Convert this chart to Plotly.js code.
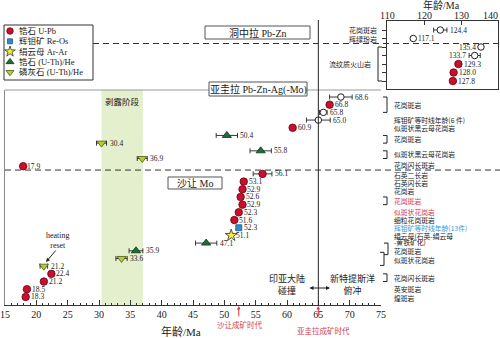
<!DOCTYPE html>
<html><head><meta charset="utf-8">
<script src="https://cdn.plot.ly/plotly-3.0.1.min.js"></script>
<style>html,body{margin:0;padding:0;background:#fff}#chart{width:500px;height:338px}</style>
</head><body><div id="chart"></div>
<script>
// ---------- data (main panel: row index 0 = top) ----------
const openAge = [68.6, 65.8, 65.0];
const openRow = [0, 2, 3];
const openErr = [1.8, 0.6, 1.9];

const zrUPbAge = [66.8, 60.9, 17.9, 56.1, 53.1, 52.9, 52.6, 52.9, 52.3, 51.6, 22.4, 21.2, 18.5, 18.3];
const zrUPbRow = [1, 4, 9, 10, 11, 12, 13, 14, 15, 16, 23, 24, 25, 26];
const zrUPbErr = [0.4, 0.3, 0.1, 1.5, 0.4, 0.3, 0.4, 0.3, 0.3, 0.3, 0.3, 0.3, 0.3, 0.4];

const moReOsAge = [52.3];
const moReOsRow = [17];
const moReOsErr = [0.3];

const serArArAge = [51.1];
const serArArRow = [18];
const serArArErr = [0.3];

const zrHeAge = [50.4, 55.8, 47.1, 35.9];
const zrHeRow = [5, 7, 19, 20];
const zrHeErr = [1.7, 1.7, 1.7, 1.1];

const apHeAge = [30.4, 36.9, 33.6, 21.2];
const apHeRow = [6, 8, 21, 22];
const apHeErr = [0.8, 0.8, 0.9, 0.6];

// inset (洞中拉)
const insetOpenAge = [124.4, 117.1, 135.4, 133.7];
const insetOpenRow = [0, 1, 2, 3];
const insetOpenErr = [1.8, 0.6, 0.6, 1.5];
const insetZrAge = [129.3, 128.0, 127.8];
const insetZrRow = [4, 5, 6];
const insetZrErr = [0.8, 0.6, 0.6];
const insetTicks = [110, 120, 130, 140];

// rock labels (right of main panel)
const rockText = ['花岗斑岩','辉钼矿等时线年龄(6 件)','似斑状黑云母花岗岩','花岗斑岩','似斑状黑云母花岗岩','花岗闪长斑岩',
  '石英二长岩','石英闪长岩','花岗岩','花岗斑岩','似斑状花岗岩','细粒花岗斑岩','辉钼矿等时线年龄(13件)',
  '绢云母(石英-绢云母','-黄铁矿化)','花岗斑岩','似斑状花岗岩','花岗闪长斑岩','英安斑岩','煌斑岩'];
const rockRow = [1, 3, 4, 5.5, 7.4, 8.9, 10.1, 11.2, 12.2, 13.5, 15, 16, 17, 18.1, 18.85, 20.0, 21.2, 23.5, 25, 26.1];
const rockColor = ['#222','#222','#222','#222','#222','#222','#222','#222','#222','#d23a4c','#d23a4c','#222','#2f9ad8','#222','#222','#222','#222','#222','#222','#222'];
const bracketFrom = [0, 5, 7, 13, 19, 20.2, 23];
const bracketTo   = [2, 6, 8, 14, 20.5, 21.9, 24];
const bracketX    = [387, 387, 387, 387, 388, 384, 387];

const insetRockText = ['花岗斑岩', '辉绿玢岩', '流纹质火山岩'];
const insetRockRow = [0, 1, 4];

const xTitle = '年龄/Ma';

// ---------- helpers ----------
const W = 500, H = 338;
const px = x => x / W;
const py = y => 1 - y / H;
const SERIF = 'Liberation Serif, "Noto Sans CJK SC", serif';
const CJK = '"Noto Sans CJK SC", Liberation Serif, sans-serif';

const styles = {
  open: {symbol: 'circle', size: 6.5, color: '#ffffff', line: {color: '#222', width: 1}},
  zr:   {symbol: 'circle', size: 7.5, color: '#c8102e', line: {color: '#6e0010', width: 0.8}},
  mo:   {symbol: 'square', size: 6, color: '#2e8bd0', line: {color: '#1a5a90', width: 0.8}},
  ser:  {symbol: 'star', size: 9, color: '#f4ee3a', line: {color: '#333', width: 0.8}},
  zrHe: {symbol: 'triangle-up', size: 8, color: '#1f6e3a', line: {color: '#0c3518', width: 0.8}},
  apHe: {symbol: 'triangle-down', size: 8, color: '#b9c934', line: {color: '#4b5a12', width: 0.8}}
};

function tr(xs, ys, errs, st, xa, ya) {
  return {
    type: 'scatter', mode: 'markers', x: xs, y: ys, xaxis: xa, yaxis: ya,
    marker: st, cliponaxis: false, hoverinfo: 'skip',
    error_x: {type: 'data', array: errs, visible: true, color: '#222', thickness: 0.9, width: 2.5}
  };
}

const data = [
  tr(openAge, openRow, openErr, styles.open, 'x', 'y'),
  tr(zrUPbAge, zrUPbRow, zrUPbErr, styles.zr, 'x', 'y'),
  tr(moReOsAge, moReOsRow, moReOsErr, styles.mo, 'x', 'y'),
  tr(serArArAge, serArArRow, serArArErr, styles.ser, 'x', 'y'),
  tr(zrHeAge, zrHeRow, zrHeErr, styles.zrHe, 'x', 'y'),
  tr(apHeAge, apHeRow, apHeErr, styles.apHe, 'x', 'y'),
  tr(insetOpenAge, insetOpenRow, insetOpenErr, styles.open, 'x2', 'y3'),
  tr(insetZrAge, insetZrRow, insetZrErr, styles.zr, 'x2', 'y3')
];

// legend (manual, pixel overlay axes)
const legendItems = [
  ['锆石 U-Pb', styles.zr], ['辉钼矿 Re-Os', styles.mo], ['绢云母 Ar-Ar', styles.ser],
  ['锆石 (U-Th)/He', styles.zrHe], ['磷灰石 (U-Th)/He', styles.apHe]
];
const legY0 = 31, legDy = 10.3;
legendItems.forEach((it, i) => {
  data.push({type: 'scatter', mode: 'markers', x: [10], y: [legY0 + i * legDy], xaxis: 'x3', yaxis: 'y4',
    marker: Object.assign({}, it[1], {size: it[1].size - 1}), hoverinfo: 'skip', cliponaxis: false});
});

const annotations = [];
const shapes = [];

// value labels
function addLabels(ages, rows, errs, xref, yref, leftSet) {
  ages.forEach((a, i) => {
    const left = leftSet && leftSet.includes(i);
    annotations.push({xref: xref, yref: yref, x: left ? a - errs[i] : a + errs[i], y: rows[i],
      text: a.toFixed(1), showarrow: false, xanchor: left ? 'right' : 'left', yanchor: 'middle',
      xshift: left ? -1 : 1, font: {family: SERIF, size: 7.5, color: '#222'}});
  });
}
addLabels(openAge, openRow, openErr, 'x', 'y');
addLabels(zrUPbAge, zrUPbRow, zrUPbErr, 'x', 'y');
addLabels(moReOsAge, moReOsRow, moReOsErr, 'x', 'y');
addLabels(serArArAge, serArArRow, serArArErr, 'x', 'y');
addLabels(zrHeAge, zrHeRow, zrHeErr, 'x', 'y');
addLabels(apHeAge, apHeRow, apHeErr, 'x', 'y');
addLabels(insetOpenAge, insetOpenRow, insetOpenErr, 'x2', 'y3', [2, 3]);
addLabels(insetZrAge, insetZrRow, insetZrErr, 'x2', 'y3');

// rock labels
rockText.forEach((t, i) => annotations.push({xref: 'paper', yref: 'y', x: px(392), y: rockRow[i], text: t,
  showarrow: false, xanchor: 'left', yanchor: 'middle', align: 'left',
  font: {family: CJK, size: 6.8, color: rockColor[i]}}));
bracketFrom.forEach((f, i) => shapes.push({type: 'path', xref: 'paper', yref: 'y',
  path: `M ${px(bracketX[i]-4)},${f} L ${px(bracketX[i])},${f} L ${px(bracketX[i])},${bracketTo[i]} L ${px(bracketX[i]-4)},${bracketTo[i]}`,
  line: {color: '#222', width: 1}}));

insetRockText.forEach((t, i) => annotations.push({xref: 'paper', yref: 'y3', x: px(i < 2 ? 379 : 373), y: insetRockRow[i],
  text: t, showarrow: false, xanchor: 'right', yanchor: 'middle', font: {family: CJK, size: 7, color: '#222'}}));
shapes.push({type: 'path', xref: 'paper', yref: 'y3',
  path: `M ${px(382)},2 L ${px(378)},2 L ${px(378)},6 L ${px(382)},6`, line: {color: '#222', width: 1}});

// inset tick labels (on the inset x-axis scale; last one kept inside the page)
insetTicks.forEach((v, i) => {
  const last = i === insetTicks.length - 1;
  annotations.push({xref: 'x2', yref: 'paper', x: v, y: py(15), text: String(v),
    showarrow: false, xanchor: last ? 'right' : 'center', xshift: last ? 2 : 0, yanchor: 'middle',
    font: {family: SERIF, size: 10, color: '#222'}});
});

// background band & lines
shapes.push({type: 'rect', xref: 'x', yref: 'paper', x0: 30.4, x1: 37.0, y0: py(305), y1: py(90),
  fillcolor: '#e3efcd', line: {width: 0}, layer: 'below'});
shapes.push({type: 'line', xref: 'paper', yref: 'paper', x0: px(5), x1: px(381), y0: py(90), y1: py(90),
  line: {color: '#999', width: 1.2}});
shapes.push({type: 'line', xref: 'x', yref: 'paper', x0: 65, x1: 65, y0: py(305), y1: py(20),
  line: {color: '#222', width: 1}});
shapes.push({type: 'line', xref: 'paper', yref: 'y', x0: px(5), x1: px(500), y0: 9.5, y1: 9.5,
  line: {color: '#333', width: 1, dash: '6px,4px'}});
shapes.push({type: 'line', xref: 'paper', yref: 'paper', x0: px(93), x1: px(500), y0: py(43.5), y1: py(43.5),
  line: {color: '#333', width: 1, dash: '6px,4px'}});
// legend box
shapes.push({type: 'rect', xref: 'paper', yref: 'paper', x0: px(4), x1: px(93), y0: py(80), y1: py(25),
  line: {color: '#333', width: 1}, fillcolor: 'rgba(255,255,255,0)'});
legendItems.forEach((it, i) => annotations.push({xref: 'paper', yref: 'paper', x: px(17), y: py(legY0 + i * legDy),
  text: it[0], showarrow: false, xanchor: 'left', yanchor: 'middle', font: {family: SERIF, size: 8.5, color: '#222'}}));

// deposit boxes
function box(x0, x1, y0, y1, text, size) {
  shapes.push({type: 'rect', xref: 'paper', yref: 'paper', x0: px(x0), x1: px(x1), y0: py(y1), y1: py(y0),
    fillcolor: '#fff', line: {color: '#555', width: 1}});
  annotations.push({xref: 'paper', yref: 'paper', x: px((x0 + x1) / 2), y: py((y0 + y1) / 2), text: text,
    showarrow: false, xanchor: 'center', yanchor: 'middle', font: {family: SERIF, size: size, color: '#222'}});
}
box(205, 310, 26, 39, '洞中拉 Pb-Zn', 10);
box(209, 307, 82, 96, '亚圭拉 Pb-Zn-Ag(-Mo)', 10);
box(168, 222, 177, 189, '沙让 Mo', 10);

// free text
const txt = (x, y, t, size, color, fam) => annotations.push({xref: 'paper', yref: 'paper', x: px(x), y: py(y), text: t,
  showarrow: false, xanchor: 'center', yanchor: 'middle', font: {family: fam || CJK, size: size, color: color || '#222'}});
txt(122, 101, '剥露阶段', 8.5);
txt(287, 284, '印亚大陆<br>碰撞', 9);
txt(352, 284, '新特提斯洋<br>俯冲', 9);
txt(181, 331, xTitle, 11, '#222', SERIF);
txt(441, 5, xTitle, 10, '#222', SERIF);
txt(58, 240, 'heating<br>reset', 8, '#222', SERIF);

// arrows
annotations.push({xref: 'paper', yref: 'paper', x: px(46), y: py(262), ax: 11, ay: -13, text: '', showarrow: true,
  arrowhead: 2, arrowsize: 0.8, arrowwidth: 1, arrowcolor: '#222'});
annotations.push({xref: 'paper', yref: 'paper', x: px(330), y: py(288), ax: -22, ay: 0, text: '', showarrow: true,
  arrowhead: 2, arrowside: 'end+start', arrowsize: 0.8, arrowwidth: 1, arrowcolor: '#222'});
annotations.push({xref: 'x', yref: 'paper', x: 52.3, y: py(306), ax: 0, ay: 12, text: '', showarrow: true,
  arrowhead: 2, arrowsize: 0.7, arrowwidth: 1, arrowcolor: '#d23a4c'});
annotations.push({xref: 'x', yref: 'paper', x: 65, y: py(306), ax: 0, ay: 12, text: '', showarrow: true,
  arrowhead: 2, arrowsize: 0.7, arrowwidth: 1, arrowcolor: '#d23a4c'});
txt(240, 324, '沙让成矿时代', 7.5, '#d23a4c');
txt(323, 330, '亚圭拉成矿时代', 7.5, '#d23a4c');

const rows27 = Array.from({length: 27}, (_, i) => i);
const rows7 = Array.from({length: 7}, (_, i) => i);

const layout = {
  width: W, height: H, margin: {l: 0, r: 0, t: 0, b: 0},
  paper_bgcolor: '#fff', plot_bgcolor: 'rgba(0,0,0,0)', showlegend: false,
  font: {family: SERIF, color: '#222'},
  xaxis: {domain: [px(5), px(381)], range: [15, 75], anchor: 'y', showline: true, linecolor: '#333', linewidth: 1,
    ticks: 'inside', ticklen: 5, tickwidth: 1, tickcolor: '#333', tick0: 15, dtick: 5,
    minor: {dtick: 1, ticks: 'inside', ticklen: 2.5, tickcolor: '#333'},
    tickfont: {family: SERIF, size: 10, color: '#222'}, showgrid: false, zeroline: false, fixedrange: true},
  yaxis: {domain: [py(305), py(90)], range: [27.05, -0.91], anchor: 'x', showline: true, linecolor: '#888',
    ticks: '', showticklabels: false, showgrid: false, zeroline: false, fixedrange: true},
  yaxis2: {overlaying: 'y', side: 'right', anchor: 'x', range: [27.05, -0.91], showline: true, linecolor: '#333',
    tickmode: 'array', tickvals: rows27, ticks: 'inside', ticklen: 4, tickcolor: '#333', showticklabels: false,
    showgrid: false, zeroline: false, fixedrange: true},
  xaxis2: {domain: [px(387), px(498)], range: [110, 140], anchor: 'y3', side: 'top', showline: true, mirror: true,
    linecolor: '#333', ticks: 'inside', ticklen: 4, tickcolor: '#333', tickmode: 'array', tickvals: insetTicks,
    showticklabels: false, showgrid: false, zeroline: false, fixedrange: true},
  yaxis3: {domain: [py(89), py(21)], range: [6.94, -1.06], anchor: 'x2', showline: true, mirror: true,
    linecolor: '#333', tickmode: 'array', tickvals: rows7, ticks: 'outside', ticklen: 4, tickcolor: '#333',
    showticklabels: false, showgrid: false, zeroline: false, fixedrange: true},
  xaxis3: {domain: [0, 1], range: [0, W], anchor: 'y4', visible: false, fixedrange: true},
  yaxis4: {domain: [0, 1], range: [H, 0], anchor: 'x3', visible: false, fixedrange: true},
  shapes: shapes, annotations: annotations
};

Plotly.newPlot('chart', data, layout, {staticPlot: true, displayModeBar: false});
</script></body></html>
